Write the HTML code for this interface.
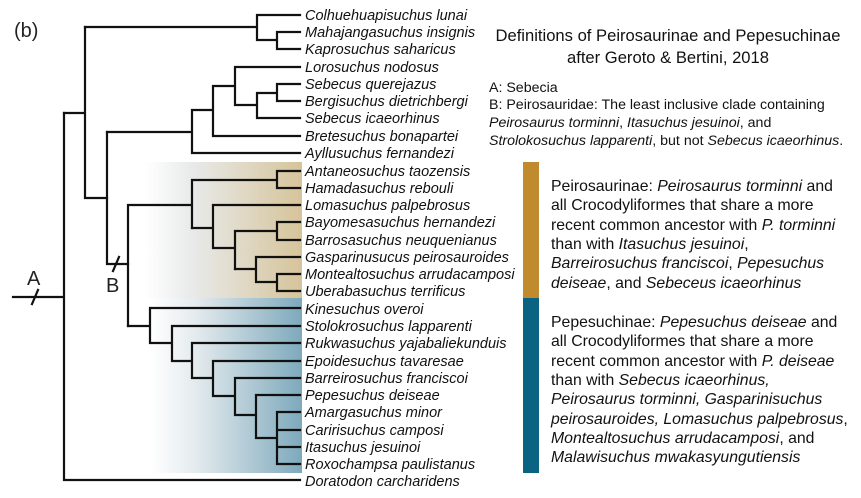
<!DOCTYPE html>
<html><head><meta charset="utf-8"><style>
body{margin:0;background:#fff;}
svg{display:block;font-family:"Liberation Sans",sans-serif;}
.l{font-size:14.5px;font-style:italic;fill:#111;}
</style></head><body>
<svg width="861" height="498" viewBox="0 0 861 498" xmlns="http://www.w3.org/2000/svg">
<defs>
<linearGradient id="tan" x1="0" x2="1" y1="0" y2="0">
<stop offset="0" stop-color="#fff"/><stop offset="0.3" stop-color="#e8eaea"/><stop offset="1" stop-color="#d6c49a"/></linearGradient>
<linearGradient id="blu" x1="0" x2="1" y1="0" y2="0">
<stop offset="0" stop-color="#fff"/><stop offset="0.3" stop-color="#e4ebee"/><stop offset="1" stop-color="#7ea9bc"/></linearGradient>
</defs>
<rect x="145" y="162" width="157" height="136" fill="url(#tan)"/>
<rect x="150" y="298" width="152" height="175" fill="url(#blu)"/>
<text x="14" y="37" font-size="20" fill="#222">(b)</text>
<g stroke="#111" stroke-width="2.2" fill="none" stroke-linecap="square">
<path d="M13 297 H64 M64 113 V480 H300"/>
<path d="M64 113 H85 M85 27 V198 H107"/>
<path d="M85 27 H257 M257 15 V40 M257 15 H300 M257 40 H277 M277 32 V49 M277 32 H300 M277 49 H300"/>
<path d="M107 132 V264 H128"/>
<path d="M107 132 H192 M192 110 V153 H300 M192 110 H213 M213 86 V136 H300 M213 86 H235 M235 67 V105 M235 67 H300 M235 105 H257 M257 93 V118 H300 M257 93 H277 M277 84 V101 M277 84 H300 M277 101 H300"/>
<path d="M128 205 V326 M128 205 H192 M192 180 V228 M192 180 H277 M277 171 V188 M277 171 H300 M277 188 H300"/>
<path d="M192 228 H213 M213 205 V248 M213 205 H300 M213 248 H235 M235 231 V269 M235 231 H277 M277 222 V240 M277 222 H300 M277 240 H300"/>
<path d="M235 269 H256 M256 257 V282 M256 257 H300 M256 282 H277 M277 274 V291 M277 274 H300 M277 291 H300"/>
<path d="M128 326 H150 M150 308 V343 M150 308 H300 M150 343 H172 M172 326 V361 M172 326 H300 M172 361 H192 M192 343 V378 M192 343 H300 M192 378 H213 M213 361 V396 M213 361 H300 M213 396 H235 M235 378 V415 M235 378 H300 M235 415 H256 M256 395 V438 M256 395 H300 M256 438 H277 M277 412 V464 M277 412 H300 M277 430 H300 M277 447 H300 M277 464 H300"/>
<path d="M32 304 L38 290 M113 271 L119 257"/>
</g>
<text x="27" y="285" font-size="20" fill="#222">A</text>
<text x="106" y="292" font-size="20" fill="#222">B</text>
<g class="l">
<text x="305" y="20">Colhuehuapisuchus lunai</text>
<text x="305" y="37">Mahajangasuchus insignis</text>
<text x="305" y="54">Kaprosuchus saharicus</text>
<text x="305" y="72">Lorosuchus nodosus</text>
<text x="305" y="89">Sebecus querejazus</text>
<text x="305" y="106">Bergisuchus dietrichbergi</text>
<text x="305" y="123">Sebecus icaeorhinus</text>
<text x="305" y="141">Bretesuchus bonapartei</text>
<text x="305" y="158">Ayllusuchus fernandezi</text>
<text x="305" y="176">Antaneosuchus taozensis</text>
<text x="305" y="193">Hamadasuchus rebouli</text>
<text x="305" y="210">Lomasuchus palpebrosus</text>
<text x="305" y="227">Bayomesasuchus hernandezi</text>
<text x="305" y="245">Barrosasuchus neuquenianus</text>
<text x="305" y="262">Gasparinusucus peirosauroides</text>
<text x="305" y="279">Montealtosuchus arrudacamposi</text>
<text x="305" y="296">Uberabasuchus terrificus</text>
<text x="305" y="314">Kinesuchus overoi</text>
<text x="305" y="331">Stolokrosuchus lapparenti</text>
<text x="305" y="348">Rukwasuchus yajabaliekunduis</text>
<text x="305" y="366">Epoidesuchus tavaresae</text>
<text x="305" y="383">Barreirosuchus franciscoi</text>
<text x="305" y="400">Pepesuchus deiseae</text>
<text x="305" y="417">Amargasuchus minor</text>
<text x="305" y="435">Caririsuchus camposi</text>
<text x="305" y="452">Itasuchus jesuinoi</text>
<text x="305" y="469">Roxochampsa paulistanus</text>
<text x="305" y="486">Doratodon carcharidens</text>
</g>
<g font-size="16.6" fill="#111" text-anchor="middle">
<text x="668" y="41">Definitions of Peirosaurinae and Pepesuchinae</text>
<text x="668" y="63">after Geroto &amp; Bertini, 2018</text>
</g>
<g font-size="14.2" fill="#111">
<text x="489" y="92">A: Sebecia</text>
<text x="489" y="109">B: Peirosauridae: The least inclusive clade containing</text>
<text x="489" y="127"><tspan font-style="italic">Peirosaurus torminni</tspan>, <tspan font-style="italic">Itasuchus jesuinoi</tspan>, and</text>
<text x="489" y="145"><tspan font-style="italic">Strolokosuchus lapparenti</tspan>, but not <tspan font-style="italic">Sebecus icaeorhinus</tspan>.</text>
</g>
<rect x="523" y="162" width="16" height="136" fill="#c08a2e"/>
<rect x="523" y="298" width="16" height="175" fill="#0b6384"/>
<g font-size="15.8" fill="#111">
<text x="551" y="191">Peirosaurinae: <tspan font-style="italic">Peirosaurus torminni</tspan> and</text>
<text x="551" y="210">all Crocodyliformes that share a more</text>
<text x="551" y="230">recent common ancestor with <tspan font-style="italic">P. torminni</tspan></text>
<text x="551" y="249">than with <tspan font-style="italic">Itasuchus jesuinoi</tspan>,</text>
<text x="551" y="268"><tspan font-style="italic">Barreirosuchus franciscoi</tspan>, <tspan font-style="italic">Pepesuchus</tspan></text>
<text x="551" y="288"><tspan font-style="italic">deiseae</tspan>, and <tspan font-style="italic">Sebeceus icaeorhinus</tspan></text>
<text x="551" y="327">Pepesuchinae: <tspan font-style="italic">Pepesuchus deiseae</tspan> and</text>
<text x="551" y="346">all Crocodyliformes that share a more</text>
<text x="551" y="366">recent common ancestor with <tspan font-style="italic">P. deiseae</tspan></text>
<text x="551" y="385">than with <tspan font-style="italic">Sebecus icaeorhinus,</tspan></text>
<text x="551" y="404"><tspan font-style="italic">Peirosaurus torminni, Gasparinisuchus</tspan></text>
<text x="551" y="424"><tspan font-style="italic">peirosauroides, Lomasuchus palpebrosus</tspan>,</text>
<text x="551" y="443"><tspan font-style="italic">Montealtosuchus arrudacamposi</tspan>, and</text>
<text x="551" y="462"><tspan font-style="italic">Malawisuchus mwakasyungutiensis</tspan></text>
</g>
</svg>
</body></html>
